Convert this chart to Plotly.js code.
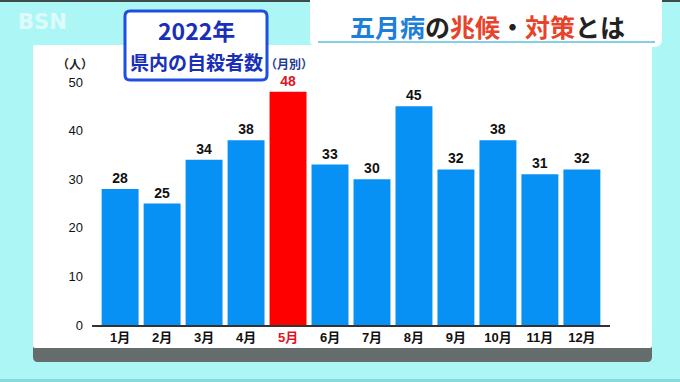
<!DOCTYPE html>
<html><head><meta charset="utf-8">
<script src="https://cdn.plot.ly/plotly-3.0.1.min.js"></script>
<style>html,body{margin:0;padding:0;background:#adf6f6;}#c{width:680px;height:382px;}</style>
</head><body><div id="c"></div>
<script>
const months = ['1月','2月','3月','4月','5月','6月','7月','8月','9月','10月','11月','12月'];
const deaths = [28,25,34,38,48,33,30,45,32,38,31,32];
const highlightMonth = '5月';
const yTicks = [0,10,20,30,40,50];

const BLUE = '#0891f5', RED = '#ff0000';
const barColors = months.map(m => m === highlightMonth ? RED : BLUE);
const textColors = months.map(m => m === highlightMonth ? '#e0141e' : '#111');
const tickText = months.map(m => m === highlightMonth ? '<span style="color:#e0141e">' + m + '</span>' : m);

const L = 92, R = 610, T = 82, B = 325, W = 680, H = 382;
const px = x => (x - L) / (R - L);
const py = y => (B - y) / (B - T);
const pt = (x, y) => px(x).toFixed(5) + ',' + py(y).toFixed(5);
function rr(x0, y0, x1, y1, r) {
  return 'M' + pt(x0 + r, y0) + ' L' + pt(x1 - r, y0) + ' Q' + pt(x1, y0) + ' ' + pt(x1, y0 + r) +
    ' L' + pt(x1, y1 - r) + ' Q' + pt(x1, y1) + ' ' + pt(x1 - r, y1) +
    ' L' + pt(x0 + r, y1) + ' Q' + pt(x0, y1) + ' ' + pt(x0, y1 - r) +
    ' L' + pt(x0, y0 + r) + ' Q' + pt(x0, y0) + ' ' + pt(x0 + r, y0) + ' Z';
}
function rect(x0, y0, x1, y1, fill, layer) {
  return {type: 'rect', xref: 'paper', yref: 'paper', x0: px(x0), x1: px(x1), y0: py(y1), y1: py(y0),
    fillcolor: fill, line: {width: 0}, layer: layer || 'below'};
}
const FONT = 'Liberation Sans, Noto Sans CJK JP, sans-serif';
const CJK = 'Noto Sans CJK JP, sans-serif';

const shapes = [
  rect(0, 0, W, 2, '#3e4b4b'),
  rect(0, 379, W, H, '#86dcdc'),
  {type: 'path', xref: 'paper', yref: 'paper', path: rr(33, 330, 652, 362, 5), fillcolor: '#646c6c', line: {width: 0}, layer: 'below'},
  {type: 'path', xref: 'paper', yref: 'paper', path: rr(33, 45, 652, 348, 2), fillcolor: '#ffffff', line: {width: 0}, layer: 'below'},
  {type: 'path', xref: 'paper', yref: 'paper', path: rr(310, -8, 662, 47, 8), fillcolor: '#ffffff', line: {width: 0}, layer: 'above'},
  {type: 'line', xref: 'paper', yref: 'paper', x0: px(318), x1: px(655), y0: py(42), y1: py(42), line: {color: '#84cfe6', width: 2}, layer: 'above'},
  {type: 'path', xref: 'paper', yref: 'paper', path: rr(125, 11, 267, 80, 5), fillcolor: '#ffffff', line: {color: '#1f4fe0', width: 3}, layer: 'above'}
];

const ann = (x, y, text, size, color, family, extra) => Object.assign({
  xref: 'paper', yref: 'paper', x: px(x), y: py(y), text: text, showarrow: false,
  xanchor: 'center', yanchor: 'middle', font: {size: size, color: color, family: family}
}, extra || {});

const annotations = [
  ann(42, 22, '<b>BSN</b>', 21, 'rgba(255,255,255,0.6)', 'DejaVu Sans, sans-serif'),
  ann(196, 30, '<b>2022年</b>', 23, '#1a2fb8', CJK),
  ann(196, 62, '<b>県内の自殺者数</b>', 19, '#1a2fb8', CJK),
  ann(75, 63, '<b>（人）</b>', 12, '#222', CJK),
  ann(289, 63, '<b>（月別）</b>', 12, '#1f3a93', CJK),
  ann(487, 26, '<b><span style="color:#1e7fd8">五月病</span><span style="color:#222">の</span><span style="color:#e8432a">兆候</span><span style="color:#222">・</span><span style="color:#e8432a">対策</span><span style="color:#222">とは</span></b>', 25, '#222', CJK)
];

Plotly.newPlot('c', [{
  type: 'bar', x: months, y: deaths,
  marker: {color: barColors, line: {width: 0}},
  text: deaths.map(String), textposition: 'outside', cliponaxis: false,
  textfont: {size: 14, color: textColors, family: FONT, weight: 'bold'},
  hoverinfo: 'none'
}], {
  width: W, height: H,
  margin: {l: L, r: W - R, t: T, b: H - B, pad: 0},
  paper_bgcolor: '#adf6f6', plot_bgcolor: 'rgba(0,0,0,0)',
  bargap: 0.12, showlegend: false,
  xaxis: {type: 'category', range: [-0.67, 11.67], tickvals: months, ticktext: tickText,
    showline: true, linecolor: '#333', linewidth: 1.5, showgrid: false, ticks: '', zeroline: false,
    tickfont: {size: 13, color: '#111', family: FONT, weight: 'bold'}, fixedrange: true},
  yaxis: {range: [0, 50], tickvals: yTicks, showgrid: false, zeroline: false, showline: false, ticks: '',
    ticklabelstandoff: 8,
    tickfont: {size: 13, color: '#111', family: FONT}, fixedrange: true},
  shapes: shapes, annotations: annotations
}, {displayModeBar: false, staticPlot: true});
</script></body></html>
